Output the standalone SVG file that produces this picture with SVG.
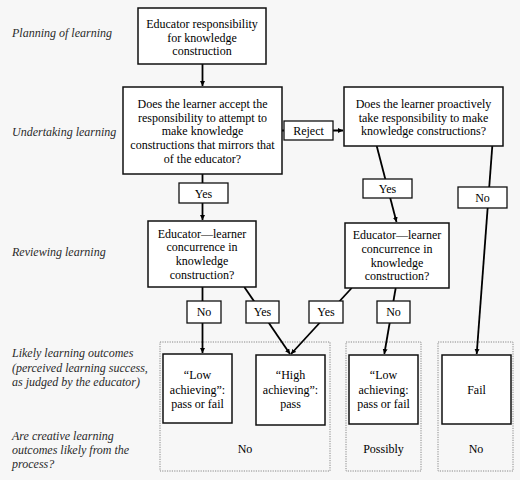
<svg xmlns="http://www.w3.org/2000/svg" width="520" height="480" viewBox="0 0 520 480" font-family="Liberation Serif">
<defs>
<marker id="ah" markerUnits="userSpaceOnUse" markerWidth="7" markerHeight="6" refX="5" refY="2.5" orient="auto">
<path d="M0,0 L5,2.5 L0,5 z" fill="#000"/>
</marker>
<style>
.bg{fill:#f7f7f7}
.box{fill:#fff;stroke:#111;stroke-width:1.5}
.lbl{fill:#fff;stroke:#111;stroke-width:1.3}
.grp{fill:none;stroke:#888;stroke-width:1;stroke-dasharray:1.2,1.2}
.t{font-family:'Liberation Serif','Times New Roman',serif;font-size:12px;fill:#000;text-anchor:middle}
.side{font-family:'Liberation Serif','Times New Roman',serif;font-size:12px;font-style:italic;fill:#2a2a2a}
.ca{fill:none;stroke:#000;stroke-width:1.8;marker-end:url(#ah)}
</style>
</defs>
<rect class="bg" x="0" y="0" width="520" height="480"/>

<g id="side-labels">
<text class="side" x="12" y="37">Planning of learning</text>
<text class="side" x="12" y="136">Undertaking learning</text>
<text class="side" x="12" y="256">Reviewing learning</text>
<text class="side" x="12" y="357">Likely learning outcomes</text>
<text class="side" x="12" y="372">(perceived learning success,</text>
<text class="side" x="12" y="386">as judged by the educator)</text>
<text class="side" x="12" y="440">Are creative learning</text>
<text class="side" x="12" y="454">outcomes likely from the</text>
<text class="side" x="12" y="468">process?</text>
</g>

<g id="groups">
<rect class="grp" x="160" y="342" width="170" height="129"/>
<text class="t" x="245" y="453">No</text>
<rect class="grp" x="346" y="342" width="75" height="129"/>
<text class="t" x="383.5" y="453">Possibly</text>
<rect class="grp" x="438" y="342" width="75" height="129"/>
<text class="t" x="476" y="453">No</text>
</g>

<g id="connectors">
<line class="ca" x1="202.5" y1="64" x2="202.5" y2="86"/>
<line class="ca" x1="282" y1="130.5" x2="343" y2="130.5"/>
<line class="ca" x1="202.5" y1="174" x2="202.5" y2="220"/>
<line class="ca" x1="376.7" y1="146" x2="396.5" y2="222"/>
<line class="ca" x1="492.3" y1="146" x2="476.7" y2="354"/>
<line class="ca" x1="202.5" y1="287" x2="202.5" y2="353"/>
<line class="ca" x1="244.3" y1="287" x2="290" y2="354"/>
<line class="ca" x1="351.7" y1="288" x2="291" y2="354"/>
<line class="ca" x1="395.7" y1="288" x2="384.3" y2="354"/>
</g>

<g id="nodes">
<g id="n-educator">
<rect class="box" x="138" y="8" width="128" height="56"/>
<text class="t" x="202" y="28">Educator responsibility</text>
<text class="t" x="202" y="41.5">for knowledge</text>
<text class="t" x="202" y="55">construction</text>
</g>

<g id="n-accept">
<rect class="box" x="123" y="87" width="159" height="87"/>
<text class="t" x="202.5" y="108">Does the learner accept the</text>
<text class="t" x="202.5" y="121.7">responsibility to attempt to</text>
<text class="t" x="202.5" y="135.4">make knowledge</text>
<text class="t" x="202.5" y="149.1">constructions that mirrors that</text>
<text class="t" x="202.5" y="162.8">of the educator?</text>
</g>

<g id="n-reject">
<rect class="lbl" x="284" y="121" width="49" height="19"/>
<text class="t" x="308.5" y="134.5">Reject</text>
</g>

<g id="n-proactive">
<rect class="box" x="344" y="87" width="159" height="59"/>
<text class="t" x="423.5" y="108">Does the learner proactively</text>
<text class="t" x="423.5" y="121.7">take responsibility to make</text>
<text class="t" x="423.5" y="135.4">knowledge constructions?</text>
</g>

<g id="n-yes1">
<rect class="lbl" x="179" y="183" width="49" height="20"/>
<text class="t" x="203.5" y="197.5">Yes</text>
</g>

<g id="n-yes2">
<rect class="lbl" x="363" y="179" width="49" height="19"/>
<text class="t" x="387.5" y="193">Yes</text>
</g>

<g id="n-no1">
<rect class="lbl" x="458" y="187" width="49" height="21"/>
<text class="t" x="482.5" y="202">No</text>
</g>

<g id="n-concur1">
<rect class="box" x="148" y="221" width="108" height="66"/>
<text class="t" x="202" y="237.5">Educator—learner</text>
<text class="t" x="202" y="251.3">concurrence in</text>
<text class="t" x="202" y="265">knowledge</text>
<text class="t" x="202" y="278.7">construction?</text>
</g>

<g id="n-concur2">
<rect class="box" x="345" y="223" width="104" height="65"/>
<text class="t" x="397" y="239">Educator—learner</text>
<text class="t" x="397" y="252.8">concurrence in</text>
<text class="t" x="397" y="266.5">knowledge</text>
<text class="t" x="397" y="280.2">construction?</text>
</g>

<g id="n-no2">
<rect class="lbl" x="187" y="301" width="34" height="22"/>
<text class="t" x="204" y="316">No</text>
</g>
<g id="n-yes3">
<rect class="lbl" x="246" y="301" width="33" height="22"/>
<text class="t" x="262.5" y="316">Yes</text>
</g>
<g id="n-yes4">
<rect class="lbl" x="309" y="301" width="34" height="22"/>
<text class="t" x="326" y="316">Yes</text>
</g>
<g id="n-no3">
<rect class="lbl" x="377" y="301" width="33" height="22"/>
<text class="t" x="393.5" y="316">No</text>
</g>

<g id="n-low1">
<rect class="box" x="163" y="354" width="69" height="69"/>
<text class="t" x="197.5" y="379">“Low</text>
<text class="t" x="197.5" y="393.5">achieving”:</text>
<text class="t" x="197.5" y="408">pass or fail</text>
</g>

<g id="n-high">
<rect class="box" x="256" y="355" width="69" height="70"/>
<text class="t" x="290.5" y="379">“High</text>
<text class="t" x="290.5" y="393.5">achieving”:</text>
<text class="t" x="290.5" y="408">pass</text>
</g>

<g id="n-low2">
<rect class="box" x="349" y="355" width="69" height="69"/>
<text class="t" x="383.5" y="379">“Low</text>
<text class="t" x="383.5" y="393.5">achieving:</text>
<text class="t" x="383.5" y="408">pass or fail</text>
</g>

<g id="n-fail">
<rect class="box" x="442" y="355" width="69" height="69"/>
<text class="t" x="476.5" y="394">Fail</text>
</g>
</g>
</svg>
